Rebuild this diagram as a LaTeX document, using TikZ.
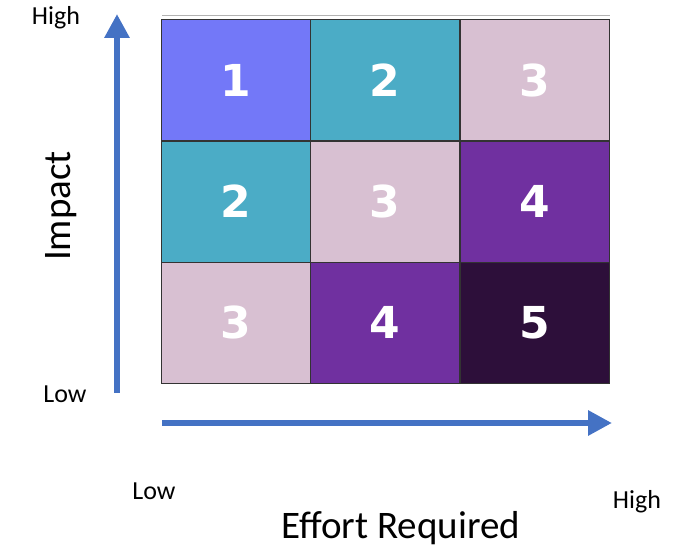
\documentclass[tikz,border=0pt]{standalone}
\usepackage{fontspec}
\setmainfont{Carlito}
\newfontfamily\numfont{DejaVu Sans}
\usetikzlibrary{arrows.meta}
\definecolor{cA}{HTML}{7378F8}
\definecolor{cB}{HTML}{4BACC6}
\definecolor{cC}{HTML}{D8C0D2}
\definecolor{cD}{HTML}{7030A0}
\definecolor{cE}{HTML}{2D0F3A}
\definecolor{arrowblue}{HTML}{4472C4}
\begin{document}
\begin{tikzpicture}[x=1pt,y=-1pt,
  cell/.style={draw=black!80,line width=0.8pt,minimum width=149pt,minimum height=121pt,inner sep=0pt,
     text=white,font=\numfont\bfseries\fontsize{44}{44}\selectfont},
  axisarrow/.style={draw=arrowblue,line width=6pt,-{Triangle[length=24pt,width=24pt]}},
  lbl/.style={font=\fontsize{26}{30}\selectfont,inner sep=0pt}]
\useasboundingbox (0,0) rectangle (689,548);
\draw[gray!60,line width=1pt] (162,16) -- (610,16);
\node[cell,fill=cA] (c11) at (235.5,80) {1};
\node[cell,fill=cB] (c12) at (385,80) {2};
\node[cell,fill=cC] (c13) at (535,80) {3};
\node[cell,fill=cB] (c21) at (235.5,201.5) {2};
\node[cell,fill=cC] (c22) at (385,201.5) {3};
\node[cell,fill=cD] (c23) at (535,201.5) {4};
\node[cell,fill=cC] (c31) at (235.5,322.5) {3};
\node[cell,fill=cD] (c32) at (385,322.5) {4};
\node[cell,fill=cE] (c33) at (535,322.5) {5};
\coordinate (vs) at (117,393);
\coordinate (ve) at (117,14);
\coordinate (hs) at (162,423);
\coordinate (he) at (612,423);
\draw[axisarrow] (vs) -- (ve);
\draw[axisarrow] (hs) -- (he);
\node[lbl] (hi1) at (56,18) {High};
\node[lbl] (lo1) at (65,394) {Low};
\node[lbl] (lo2) at (154,491) {Low};
\node[lbl] (hi2) at (637,502) {High};
\node[font=\fontsize{39}{44}\selectfont,rotate=90,inner sep=0pt] (imp) at (61,206) {Impact};
\node[font=\fontsize{39}{44}\selectfont,inner sep=0pt] (eff) at (401,528) {Effort Required};
\end{tikzpicture}
\end{document}
